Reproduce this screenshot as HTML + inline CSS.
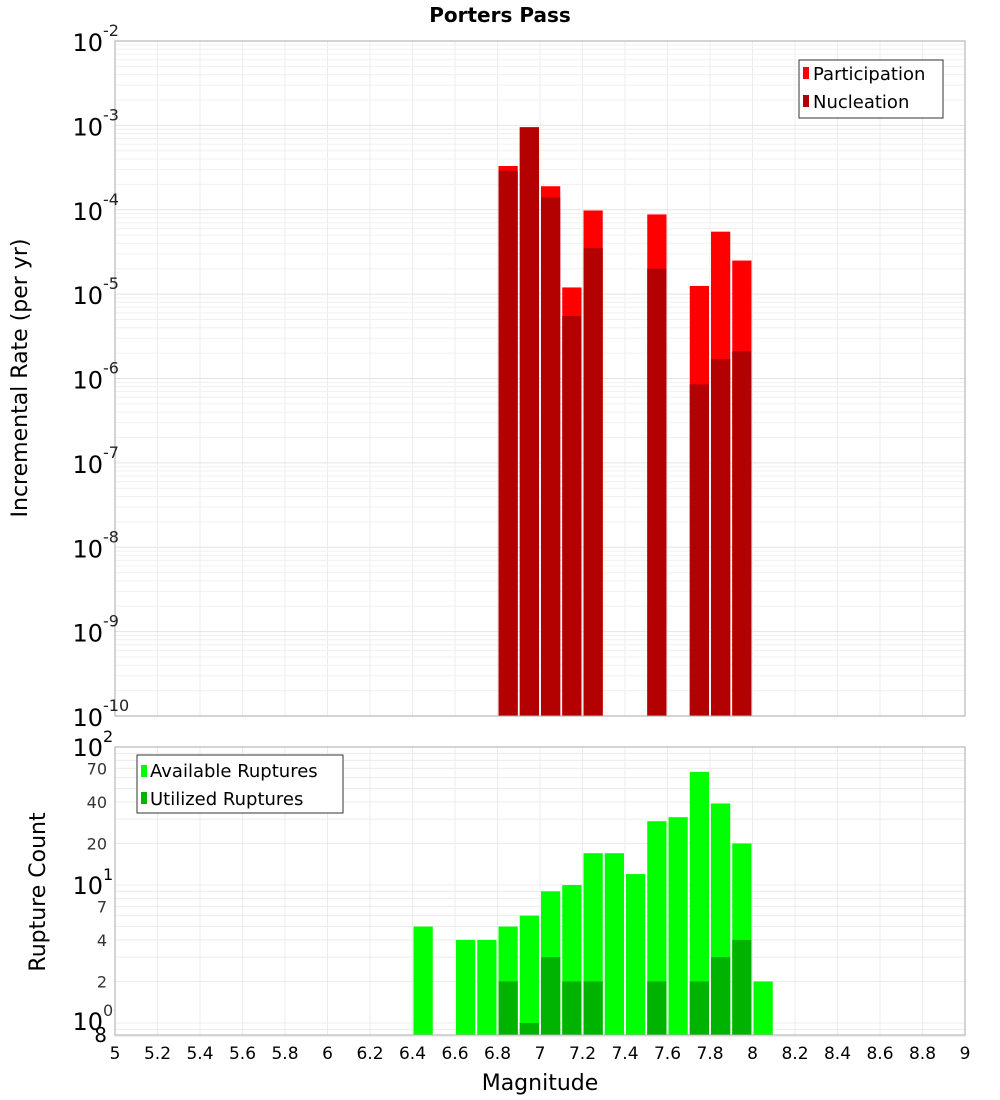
<!DOCTYPE html>
<html><head><meta charset="utf-8"><style>
html,body{margin:0;padding:0;background:#fff;}
svg{display:block;font-family:"DejaVu Sans","Liberation Sans",sans-serif;}
</style></head><body>
<svg id="c" width="1000" height="1100" xmlns="http://www.w3.org/2000/svg"></svg>
<script>
const mags = [6.85,6.95,7.05,7.15,7.25,7.55,7.75,7.85,7.95];
const partRates = [3.3e-4,9.5e-4,1.9e-4,1.2e-5,9.8e-5,8.8e-5,1.25e-5,5.5e-5,2.5e-5];
const nuclRates = [2.9e-4,9.5e-4,1.4e-4,5.5e-6,3.5e-5,2.0e-5,8.5e-7,1.7e-6,2.1e-6];
const countMags = [6.45,6.65,6.75,6.85,6.95,7.05,7.15,7.25,7.35,7.45,7.55,7.65,7.75,7.85,7.95,8.05];
const availCounts = [5,4,4,5,6,9,10,17,17,12,29,31,66,39,20,2];
const usedMags = [6.85,6.95,7.05,7.15,7.25,7.55,7.75,7.85,7.95];
const usedCounts = [2,1,3,2,2,2,2,3,4];
const xTicks = [5,5.2,5.4,5.6,5.8,6,6.2,6.4,6.6,6.8,7,7.2,7.4,7.6,7.8,8,8.2,8.4,8.6,8.8,9];
const topDecades = [-2,-3,-4,-5,-6,-7,-8,-9,-10];

const NS="http://www.w3.org/2000/svg", svg=document.getElementById('c');
function el(tag,attrs,parent){const e=document.createElementNS(NS,tag);for(const k in attrs)e.setAttribute(k,attrs[k]);(parent||svg).appendChild(e);return e;}
const X0=115,X1=965;
const xs=m=>X0+(m-5)/4*(X1-X0);
const T0=41,T1=716;
const yTop=v=>T0+(-2-Math.log10(v))/8*(T1-T0);
const B0=747,B1=1035;
const bPerDec=138;
const yBot=v=>B0+(2-Math.log10(v))*bPerDec;
const bw=(xs(5.1)-xs(5));

// plot backgrounds
const g1=el('g',{});


const g2=el('g',{});



// grids
for(let m=5;m<=9.001;m+=0.2){
  el('line',{x1:xs(m),x2:xs(m),y1:T0,y2:T1,stroke:'#ececec'},g1);
  el('line',{x1:xs(m),x2:xs(m),y1:B0,y2:B1,stroke:'#ececec'},g2);
}
for(let d=-10;d<-2;d++){for(let k=1;k<10;k++){const y=yTop(k*Math.pow(10,d));el('line',{x1:X0,x2:X1,y1:y,y2:y,stroke:k==1?'#e4e4e4':'#f0f0f0'},g1);}}
for(let d=-1;d<2;d++){for(let k=1;k<10;k++){const v=k*Math.pow(10,d);if(v<0.8)continue;const y=yBot(v);el('line',{x1:X0,x2:X1,y1:y,y2:y,stroke:'#ececec'},g2);}}

// top bars
mags.forEach((m,i)=>{
  const r=el('rect',{x:xs(m)-bw/2+1,width:bw-2,y:yTop(partRates[i]),height:T1-yTop(partRates[i]),fill:'#ff0000'},g1);
  
  
  const n=el('rect',{x:xs(m)-bw/2+1,width:bw-2,y:yTop(nuclRates[i]),height:T1-yTop(nuclRates[i]),fill:'#b30000'},g1);
  
  
});
// bottom bars
countMags.forEach((m,i)=>{
  const r=el('rect',{x:xs(m)-bw/2+1,width:bw-2,y:yBot(availCounts[i]),height:B1-yBot(availCounts[i]),fill:'#00ff00'},g2);
  
  
});
usedMags.forEach((m,i)=>{
  const r=el('rect',{x:xs(m)-bw/2+1,width:bw-2,y:yBot(usedCounts[i]),height:B1-yBot(usedCounts[i]),fill:'#00b300'},g2);
  
  
});
el('rect',{x:X0,y:T0,width:X1-X0,height:T1-T0,fill:'none',stroke:'#aaa'},g1);
el('rect',{x:X0,y:B0,width:X1-X0,height:B1-B0,fill:'none',stroke:'#aaa'},g2);

// top y labels
topDecades.forEach(d=>{
  const y=yTop(Math.pow(10,d));
  const t=el('text',{x:103,y:y+10,'text-anchor':'end','font-size':24},g1);
  
  
  t.textContent='10';
  const s=el('text',{x:103,y:y-5,'font-size':16,fill:'#222'},g1);
  s.textContent=String(d);
});
// bottom y labels
[[100,'10','2'],[10,'10','1']].forEach(a=>{
  const y=yBot(a[0]);
  const t=el('text',{x:103,y:y+9,'text-anchor':'end','font-size':24},g2);
  
  
  t.textContent=a[1];
  const s=el('text',{x:103,y:y-5,'font-size':16},g2);s.textContent=a[2];
});
{const t=el('text',{x:103,y:1030,'text-anchor':'end','font-size':24},g2);t.textContent='10';
 const s=el('text',{x:103,y:1016,'font-size':16,fill:'#333'},g2);s.textContent='0';
 const e=el('text',{x:107,y:1042,'text-anchor':'end','font-size':20},g2);e.textContent='8';}
[70,40,20,7,4,2].forEach(v=>{
  const t=el('text',{x:107,y:yBot(v)+6,'text-anchor':'end','font-size':16,fill:'#333'},g2);
  
  
  t.textContent=String(v);
});
// x labels
xTicks.forEach(m=>{
  const t=el('text',{x:xs(m),y:1059,'text-anchor':'middle','font-size':17},g2);
  
  
  t.textContent=String(m);
});
</script>
<svg width="0" height="0"></svg>
<div style="position:absolute;left:0;top:0;width:1000px;height:1100px;pointer-events:none;">
<svg width="1000" height="1100" xmlns="http://www.w3.org/2000/svg" style="font-family:'DejaVu Sans','Liberation Sans',sans-serif">
<text x="500" y="22" text-anchor="middle" font-size="20" font-weight="bold">Porters Pass</text>
<text transform="translate(27,378) rotate(-90)" text-anchor="middle" font-size="22">Incremental Rate (per yr)</text>
<text transform="translate(45,892) rotate(-90)" text-anchor="middle" font-size="22">Rupture Count</text>
<text x="540" y="1090" text-anchor="middle" font-size="22">Magnitude</text>
<g>
<rect x="799" y="60" width="144" height="58" fill="#fff" stroke="#333"/>
<rect x="803" y="67" width="6" height="12" fill="#ff0000"/>
<text x="813" y="80" font-size="18">Participation</text>
<rect x="803" y="95" width="6" height="12" fill="#b30000"/>
<text x="813" y="108" font-size="18">Nucleation</text>
</g>
<g>
<rect x="137" y="755" width="206" height="58" fill="#fff" stroke="#333"/>
<rect x="141" y="765" width="6" height="12" fill="#00ff00"/>
<text x="150" y="777" font-size="18">Available Ruptures</text>
<rect x="141" y="792" width="6" height="12" fill="#00b300"/>
<text x="150" y="805" font-size="18">Utilized Ruptures</text>
</g>
</svg></div>
</body></html>
